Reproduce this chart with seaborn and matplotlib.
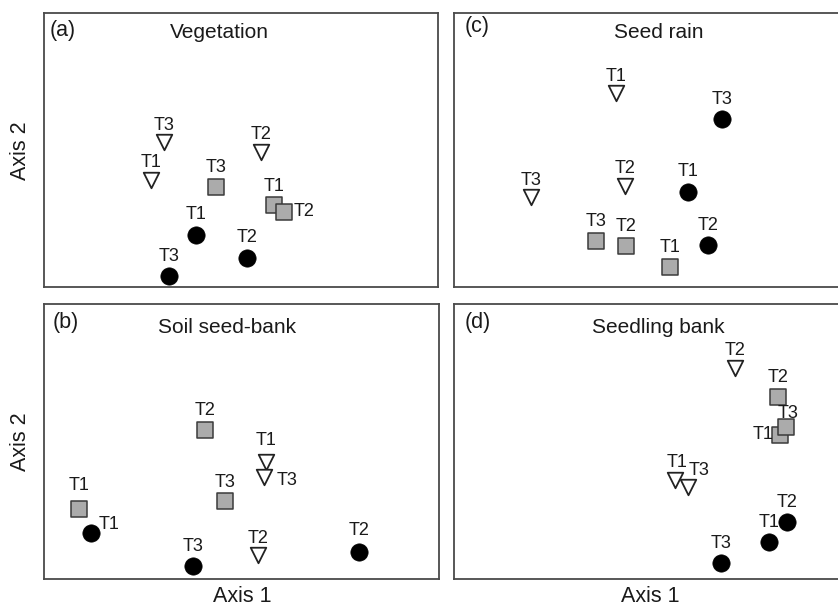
import matplotlib
matplotlib.use("Agg")
import matplotlib.pyplot as plt
import seaborn as sns
import pandas as pd

# ---------------- data (ordination scores, arbitrary units 0-100) ----------------
labels = ["T1", "T2", "T3"]

# (a) Vegetation
veg_tri_x = [27.2, 55.1, 30.5]
veg_tri_y = [39.1, 49.3, 52.9]
veg_sq_x = [58.4, 60.9, 43.7]
veg_sq_y = [29.9, 27.4, 36.5]
veg_ci_x = [38.6, 51.5, 31.7]
veg_ci_y = [19.0, 10.6, 4.0]

# (b) Soil seed-bank
soil_tri_x = [56.3, 54.3, 55.8]
soil_tri_y = [42.4, 8.7, 37.0]
soil_sq_x = [8.9, 40.8, 45.9]
soil_sq_y = [25.4, 54.3, 28.3]
soil_ci_x = [11.9, 79.7, 37.8]
soil_ci_y = [16.7, 9.8, 4.7]

# (c) Seed rain
rain_tri_x = [41.1, 43.4, 19.5]
rain_tri_y = [70.8, 36.9, 32.8]
rain_sq_x = [54.8, 43.7, 36.0]
rain_sq_y = [7.3, 15.0, 16.8]
rain_ci_x = [59.4, 64.5, 68.0]
rain_ci_y = [34.7, 15.3, 61.3]

# (d) Seedling bank
sdl_tri_x = [56.1, 71.3, 59.4]
sdl_tri_y = [35.9, 76.8, 33.3]
sdl_sq_x = [82.7, 82.2, 84.3]
sdl_sq_y = [52.2, 66.3, 55.1]
sdl_ci_x = [79.9, 84.5, 67.8]
sdl_ci_y = [13.4, 20.7, 5.8]

panel_letters = ["(a)", "(b)", "(c)", "(d)"]
panel_titles = ["Vegetation", "Soil seed-bank", "Seed rain", "Seedling bank"]

panels = [
    dict(tri=(veg_tri_x, veg_tri_y), sq=(veg_sq_x, veg_sq_y), ci=(veg_ci_x, veg_ci_y)),
    dict(tri=(soil_tri_x, soil_tri_y), sq=(soil_sq_x, soil_sq_y), ci=(soil_ci_x, soil_ci_y)),
    dict(tri=(rain_tri_x, rain_tri_y), sq=(rain_sq_x, rain_sq_y), ci=(rain_ci_x, rain_ci_y)),
    dict(tri=(sdl_tri_x, sdl_tri_y), sq=(sdl_sq_x, sdl_sq_y), ci=(sdl_ci_x, sdl_ci_y)),
]

# ---------------- style / layout ----------------
sns.set_theme(style="white")
plt.rcParams["font.family"] = ["Liberation Sans", "DejaVu Sans"]
TXT = "#1a1a1a"

W, H = 838, 606
fig = plt.figure(figsize=(W / 100, H / 100), dpi=100)

# axes boxes in pixels: (left, top, width, height)
boxes = [(44, 13, 394, 274), (44, 304, 395, 275), (454, 13, 394, 274), (454, 304, 394, 275)]
# title / letter placement in axes fraction
title_pos = [(0.444, 0.909), (0.463, 0.893), (0.520, 0.909), (0.518, 0.893)]
letter_pos = [(0.015, 0.916), (0.023, 0.913), (0.028, 0.932), (0.028, 0.913)]

marker_style = {
    "tri": dict(marker="v", s=125, color="white", edgecolor="#222222", linewidth=1.3),
    "sq": dict(marker="s", s=118, color="#ababab", edgecolor="#3a3a3a", linewidth=1.1),
    "ci": dict(marker="o", s=155, color="black", edgecolor="black", linewidth=0.5),
}
default_off = {"tri": (0, 17), "sq": (0, 19), "ci": (0, 20)}
# label offsets in pixels (dx, dy up) for specific points: (panel, group, label index)
special_off = {
    (0, "sq", 1): (20, 0),
    (1, "tri", 2): (23, -3),
    (1, "ci", 0): (18, 9),
    (1, "tri", 0): (0, 22),
    (1, "ci", 1): (0, 22),
    (1, "sq", 0): (0, 24),
    (3, "sq", 2): (2, 14),
    (3, "sq", 0): (-17, 1),
    (3, "tri", 2): (11, 17),
    (3, "tri", 0): (2, 18),
}

for i, (p, box) in enumerate(zip(panels, boxes)):
    l, t, w, h = box
    ax = fig.add_axes([l / W, (H - t - h) / H, w / W, h / H])
    for g in ["tri", "sq", "ci"]:
        xs, ys = p[g]
        df = pd.DataFrame({"x": xs, "y": ys, "lab": labels})
        sns.scatterplot(data=df, x="x", y="y", ax=ax, legend=False, zorder=3, **marker_style[g])
        for k, (x, y, lab) in enumerate(zip(xs, ys, labels)):
            dx, dy = special_off.get((i, g, k), default_off[g])
            ax.annotate(lab, (x, y), xytext=(dx * 0.72, dy * 0.72), textcoords="offset points",
                        ha="center", va="center", fontsize=13, color=TXT, zorder=4)
    ax.set_xlim(0, 100)
    ax.set_ylim(0, 100)
    ax.set_xticks([])
    ax.set_yticks([])
    ax.set_xlabel("")
    ax.set_ylabel("")
    for sp in ax.spines.values():
        sp.set_color("#4a4a4a")
        sp.set_linewidth(1.3)
    ax.text(*title_pos[i], panel_titles[i], transform=ax.transAxes, ha="center", va="baseline",
            fontsize=15, color=TXT)
    ax.text(*letter_pos[i], panel_letters[i], transform=ax.transAxes, ha="left", va="baseline",
            fontsize=15.5, color=TXT)

# shared axis labels
fig.text(21 / W, 1 - 151 / H, "Axis 2", rotation=90, ha="center", va="center", fontsize=15.5, color=TXT)
fig.text(21 / W, 1 - 442 / H, "Axis 2", rotation=90, ha="center", va="center", fontsize=15.5, color=TXT)
fig.text(242 / W, 1 - 597 / H, "Axis 1", ha="center", va="center", fontsize=15.5, color=TXT)
fig.text(650 / W, 1 - 597 / H, "Axis 1", ha="center", va="center", fontsize=15.5, color=TXT)

fig.savefig("out.png", dpi=100, facecolor="white")
